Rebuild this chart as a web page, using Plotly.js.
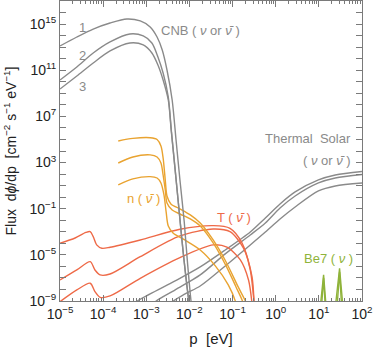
<!DOCTYPE html>
<html>
<head>
<meta charset="utf-8">
<script src="https://cdn.plot.ly/plotly-3.0.1.min.js"></script>
<style>
html, body { margin: 0; padding: 0; background: #fff; }
#graph { width: 374px; height: 348px; }
</style>
</head>
<body>
<div id="graph"></div>
<script>
// all values are log10(p / eV) and log10(flux)

// CNB, three mass states
var cnb1LogP = [-5, -4.61, -4.23, -3.84, -3.45, -3.14, -2.91, -2.75, -2.63, -2.52, -2.40, -2.31, -2.22, -2.12, -2.05, -1.96, -1.93];
var cnb1LogF = [13.1, 13.88, 14.57, 15.09, 15.44, 15.27, 14.75, 13.88, 12.75, 11.02, 8.42, 4.95, 1.49, -2.15, -5.44, -9.08, -9.7];
var cnb2LogP = [-5, -4.61, -4.23, -3.84, -3.38, -3.07, -2.87, -2.73, -2.61, -2.49, -2.42, -2.33, -2.24, -2.15, -2.01, -1.98];
var cnb2LogF = [10.15, 11.28, 12.49, 13.45, 14.14, 13.97, 13.36, 12.15, 10.76, 8.68, 5.82, 2.36, -1.11, -4.58, -9.08, -9.7];
var cnb3LogP = [-5, -4.61, -4.23, -3.84, -3.38, -3.07, -2.87, -2.73, -2.61, -2.49, -2.42, -2.33, -2.24, -2.15, -2.01, -1.98];
var cnb3LogF = [9.37, 10.5, 11.63, 12.67, 13.36, 13.19, 12.49, 11.45, 10.15, 8.42, 5.70, 2.30, -1.15, -4.6, -9.08, -9.7];

// relic n (anti-neutrino)
var n1LogP = [-3.65, -3.31, -2.91, -2.75, -2.66, -2.61, -2.56, -2.52, -2.43, -2.22, -1.98, -1.75, -1.45, -1.15, -0.87, -0.68, -0.66];
var n1LogF = [4.87, 5.09, 5.15, 5.00, 4.44, 3.40, 1.49, 0.10, -0.59, -1.02, -1.54, -2.24, -3.71, -5.62, -7.78, -9.2, -9.7];
var n2LogP = [-3.65, -3.31, -2.91, -2.75, -2.66, -2.61, -2.56, -2.52, -2.40, -2.22, -1.98, -1.75, -1.45, -1.15, -0.92, -0.75, -0.73];
var n2LogF = [2.96, 3.48, 3.66, 3.48, 2.96, 1.92, 0.62, -0.50, -1.11, -1.46, -1.89, -2.50, -3.97, -5.96, -7.78, -9.2, -9.7];
var n3LogP = [-3.65, -3.31, -2.91, -2.75, -2.66, -2.59, -2.54, -2.49, -2.38, -2.15, -1.75, -1.40, -1.10, -0.92, -0.90];
var n3LogF = [1.06, 1.58, 1.78, 1.66, 1.23, 0.19, -1.28, -2.50, -3.10, -3.62, -4.58, -5.96, -7.61, -9.2, -9.7];

// T (anti-neutrino)
var t1LogP = [-5, -4.65, -4.40, -4.30, -4.23, -4.15, -4.03, -3.84, -3.14, -2.22, -1.44, -1.06, -0.78, -0.59, -0.50, -0.49];
var t1LogF = [-4.00, -3.54, -3.06, -2.99, -3.42, -4.14, -4.43, -4.34, -3.71, -2.78, -2.47, -2.70, -3.97, -6.31, -9.2, -9.7];
var t2LogP = [-5, -4.61, -4.30, -4.19, -4.07, -3.84, -3.14, -2.22, -1.45, -1.06, -0.75, -0.55, -0.50, -0.49];
var t2LogF = [-7.18, -6.31, -5.59, -6.31, -6.74, -6.66, -5.16, -3.36, -2.76, -2.99, -4.40, -6.89, -9.2, -9.7];
var t3LogP = [-5, -4.61, -4.30, -4.19, -4.07, -3.84, -3.14, -2.22, -1.45, -1.13, -0.82, -0.63, -0.55, -0.54];
var t3LogF = [-9.06, -8.04, -7.46, -8.19, -8.68, -8.56, -7.03, -5.24, -4.14, -4.34, -5.44, -7.18, -9.2, -9.7];

// thermal solar, three mass states
var s1LogP = [-3.30, -3.24, -2.91, -2.33, -1.75, -1.17, -0.59, -0.24, 0.10, 0.45, 0.99, 1.38, 2.01];
var s1LogF = [-9.6, -9.1, -8.39, -7.26, -6.05, -4.58, -3.02, -1.80, -0.59, 0.45, 1.49, 1.92, 2.23];
var s2LogP = [-2.86, -2.80, -2.33, -1.75, -1.17, -0.59, -0.24, 0.10, 0.45, 0.99, 1.38, 2.01];
var s2LogF = [-9.6, -9.1, -8.04, -6.74, -4.92, -3.28, -2.24, -0.94, 0.10, 1.23, 1.66, 1.97];
var s3LogP = [-2.46, -2.40, -2.10, -1.75, -1.17, -0.59, -0.24, 0.10, 0.45, 0.99, 1.38, 2.01];
var s3LogF = [-9.6, -9.1, -8.39, -7.70, -5.96, -4.14, -3.02, -1.89, -0.85, 0.54, 0.97, 1.23];

// Be7 lines
var be7aLogP = [1.03, 1.11, 1.17];
var be7aLogF = [-9.6, -6.74, -9.6];
var be7bLogP = [1.06, 1.11, 1.15];
var be7bLogF = [-9.6, -7.0, -9.6];
var be7cLogP = [1.38, 1.48, 1.56];
var be7cLogF = [-9.6, -6.16, -9.6];
var be7dLogP = [1.42, 1.48, 1.53];
var be7dLogF = [-9.6, -6.5, -9.6];

var xTickExp = [-5, -4, -3, -2, -1, 0, 1, 2];
var yTickExp = [];
for (var k = -9; k <= 17; k++) yTickExp.push(k);

var gray = '#8a8a8a', orange = '#e9a330', red = '#ee6a48', green = '#8fb33a';

function pow10(v) { return Math.pow(10, v); }

function curve(logP, logF, color, shape) {
    return {
        x: logP.map(pow10),
        y: logF.map(pow10),
        type: 'scatter',
        mode: 'lines',
        line: {color: color, width: 1.4, shape: shape || 'spline', smoothing: 0.8},
        hoverinfo: 'skip',
        showlegend: false
    };
}

function sup(e) {
    return '10<sup>' + (e < 0 ? '\u2212' + (-e) : e) + '</sup>';
}

function drawGraph() {
    var data = [
        curve(s1LogP, s1LogF, gray), curve(s2LogP, s2LogF, gray), curve(s3LogP, s3LogF, gray),
        curve(t1LogP, t1LogF, red), curve(t2LogP, t2LogF, red), curve(t3LogP, t3LogF, red),
        curve(n1LogP, n1LogF, orange), curve(n2LogP, n2LogF, orange), curve(n3LogP, n3LogF, orange),
        curve(cnb1LogP, cnb1LogF, gray), curve(cnb2LogP, cnb2LogF, gray), curve(cnb3LogP, cnb3LogF, gray),
        curve(be7aLogP, be7aLogF, green, 'linear'), curve(be7bLogP, be7bLogF, green, 'linear'),
        curve(be7cLogP, be7cLogF, green, 'linear'), curve(be7dLogP, be7dLogF, green, 'linear')
    ];

    // minor ticks 2..9 in each decade
    var minorX = [];
    for (var e = -5; e < 2; e++) {
        for (var m = 2; m <= 9; m++) minorX.push(m * Math.pow(10, e));
    }

    var axisColor = '#7a7a7a';
    var nu = '<i>\u03bd</i>', nubar = '<i>\u03bd\u0304</i>';

    function label(text, px, py, color, anchor) {
        return {
            text: text, xref: 'paper', yref: 'paper',
            x: (px - 60) / 302, y: (301 - py) / 300,
            xanchor: anchor || 'center', yanchor: 'middle',
            showarrow: false, font: {size: 13, color: color}
        };
    }

    var layout = {
        width: 374,
        height: 348,
        margin: {l: 60, r: 12, t: 1, b: 47},
        paper_bgcolor: '#fff',
        plot_bgcolor: '#fff',
        font: {family: 'Liberation Sans, Arial, sans-serif', size: 14, color: '#222'},
        xaxis: {
            type: 'log',
            range: [-5, 2],
            tickmode: 'array',
            tickvals: xTickExp.map(pow10),
            ticktext: xTickExp.map(sup),
            ticks: 'inside', ticklen: 6, tickcolor: axisColor,
            minor: {tickvals: minorX, ticks: 'inside', ticklen: 3, tickcolor: axisColor, showgrid: false},
            showline: true, linecolor: axisColor, linewidth: 1, mirror: 'ticks',
            showgrid: false, zeroline: false,
            title: {text: 'p  [eV]', font: {size: 15}, standoff: 12}
        },
        yaxis: {
            type: 'log',
            range: [-9, 17],
            tickmode: 'array',
            tickvals: yTickExp.map(pow10),
            ticktext: yTickExp.map(function (e) { return (e + 9) % 4 === 0 ? sup(e) : ''; }),
            ticks: 'inside', ticklen: 6, tickcolor: axisColor,
            showline: true, linecolor: axisColor, linewidth: 1, mirror: 'ticks',
            showgrid: false, zeroline: false,
            title: {text: 'Flux  d<i>\u03d5</i>/dp  [cm<sup>\u22122</sup> s<sup>\u22121</sup> eV<sup>\u22121</sup>]', font: {size: 14}, standoff: 9}
        },
        annotations: [
            label('1', 82, 28, gray), label('2', 82, 55, gray), label('3', 82, 87, gray),
            label('CNB ( ' + nu + ' or ' + nubar + ' )', 159, 30, gray, 'left'),
            label('Thermal  Solar', 353, 138, gray, 'right'),
            label('( ' + nu + ' or ' + nubar + ' )', 353, 160, gray, 'right'),
            label('n ( ' + nubar + ' )', 125, 199, orange, 'left'),
            label('T ( ' + nubar + ' )', 215, 217, red, 'left'),
            label('Be7 ( ' + nu + ' )', 302, 258, green, 'left')
        ]
    };

    Plotly.newPlot('graph', data, layout, {staticPlot: true});
}

drawGraph();
</script>
</body>
</html>
